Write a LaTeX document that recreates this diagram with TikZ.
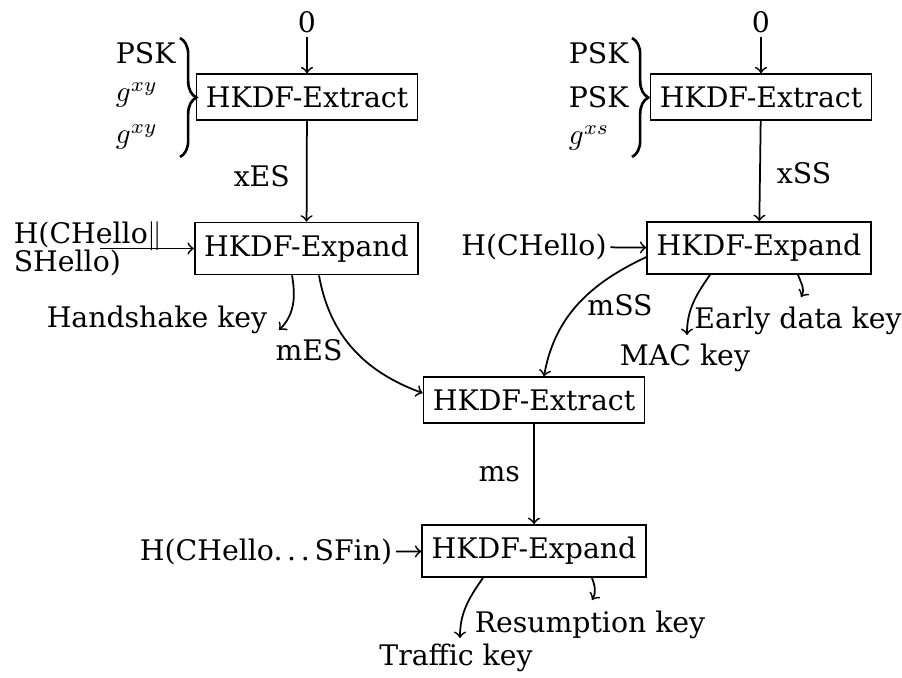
\documentclass[tikz,border=0pt]{standalone}
\usepackage{fontspec}
\setmainfont{DejaVu Serif}[Scale=0.97]
\usetikzlibrary{decorations.pathreplacing}
\begin{document}
\begin{tikzpicture}[x=0.3425pt,y=0.3425pt, line width=0.6pt,
  box/.style={draw, inner xsep=0.3333em, inner ysep=4.2pt},
  lbl/.style={inner sep=1pt},
  arr/.style={->},
  bracepath/.style={decorate, decoration={brace, amplitude=5.6pt, aspect=0.5}, line width=0.9pt}]
\useasboundingbox (0,0) rectangle (902,-677);
% boxes
\node[box] (E1) at (307,-97) {HKDF-Extract};
\node[box] (X1) at (306.5,-248.5) {HKDF-Expand};
\node[box] (E2) at (761,-97) {HKDF-Extract};
\node[box] (X2) at (759,-248) {HKDF-Expand};
\node[box] (E3) at (534,-400) {HKDF-Extract};
\node[box] (X3) at (534,-551) {HKDF-Expand};
% inputs
\node[lbl] (z1) at (307,-22) {0};
\node[lbl] (z2) at (761,-22) {0};
\node[lbl, anchor=west] (p1) at (112,-53) {PSK};
\node[lbl, anchor=west] (g1) at (112,-95) {$g^{xy}$};
\node[lbl, anchor=west] (g2) at (112,-137) {$g^{xy}$};
\coordinate (b1t) at (180,-38);
\coordinate (b1b) at (180,-157);
\draw[bracepath] (b1t) -- (b1b);
\node[lbl, anchor=west] (p2) at (565,-53) {PSK};
\node[lbl, anchor=west] (p3) at (565,-97) {PSK};
\node[lbl, anchor=west] (g3) at (565,-138) {$g^{xs}$};
\coordinate (b2t) at (632,-38);
\coordinate (b2b) at (632,-157);
\draw[bracepath] (b2t) -- (b2b);
\node[lbl, anchor=west, align=left] (h1) at (10,-249) {H(CHello$\|$\\[-2.4pt]SHello)};
\coordinate (h1a) at (100,-248.5);
\node[lbl] (h2) at (534,-247) {H(CHello)};
\node[lbl] (h3) at (266,-552) {H(CHello.\,.\,.\,SFin)};
% outputs
\node[lbl] (hk) at (157,-320) {Handshake key};
\node[lbl] (mk) at (685,-358) {MAC key};
\node[lbl] (ed) at (798,-321) {Early data key};
\node[lbl] (tk) at (456,-658) {Traffic key};
\node[lbl] (rk) at (590,-625) {Resumption key};
\node[lbl] (mes) at (309,-350) {mES};
\node[lbl] (mss) at (620,-305) {mSS};
% connectors
\draw[arr] (z1) -- (E1);
\draw[arr] (z2) -- (E2);
\draw[arr] (E1) -- node[lbl, pos=0.55, left=4.5pt] {xES} (X1);
\draw[arr] (E2) -- node[lbl, pos=0.52, right=4.5pt] {xSS} (X2);
\draw[arr] (E3) -- node[lbl, pos=0.5, left=3.5pt] {ms} (X3);
\draw[arr] (h1a) -- (X1.west);
\draw[arr] (h2) -- (X2);
\draw[arr] (h3) -- (X3);
\draw[arr] ([shift={(-14.5,0)}]X1.south) to[out=-80,in=45] ([shift={(8,-10)}]hk.east);
\draw[arr] ([shift={(12.5,0)}]X1.south) to[out=-80,in=160] ([shift={(0,7)}]E3.west);
\draw[arr] ([shift={(0,-9)}]X2.west) to[out=205,in=80] ([shift={(10,0)}]E3.north);
\draw[arr] ([shift={(-49,0)}]X2.south) to[out=235,in=90] ([shift={(2,23)}]mk.center);
\draw[arr] ([shift={(39,0)}]X2.south) to[out=-70,in=60] ([shift={(3,24)}]ed.center);
\draw[arr] ([shift={(-51,0)}]X3.south) to[out=235,in=90] ([shift={(4,20)}]tk.center);
\draw[arr] ([shift={(58,0)}]X3.south) to[out=-70,in=60] ([shift={(2,25)}]rk.center);
\end{tikzpicture}
\end{document}
